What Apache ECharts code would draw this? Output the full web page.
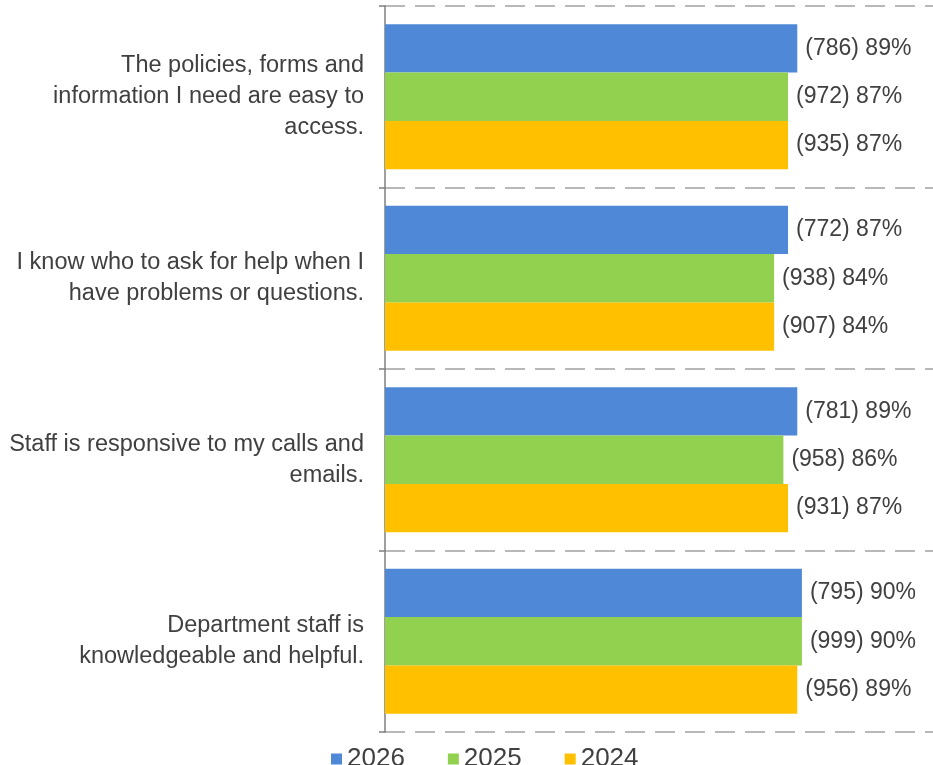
<!DOCTYPE html>
<html>
<head>
<meta charset="utf-8">
<script src="https://cdn.jsdelivr.net/npm/echarts@6/dist/echarts.min.js"></script>
<style>
  html, body { margin: 0; padding: 0; background: #ffffff; }
  #chart { width: 933px; height: 765px; }
</style>
</head>
<body>
<div id="chart"></div>
<script>
// Survey statements (top to bottom)
const categories = [
  'The policies, forms and\ninformation I need are easy to\naccess.',
  'I know who to ask for help when I\nhave problems or questions.',
  'Staff is responsive to my calls and\nemails.',
  'Department staff is\nknowledgeable and helpful.'
];

const years = ['2026', '2025', '2024'];

// Percent agreeing, per year
const pct2026 = [89, 87, 89, 90];
const pct2025 = [87, 84, 86, 90];
const pct2024 = [87, 84, 87, 89];

// Number of respondents, per year
const n2026 = [786, 772, 781, 795];
const n2025 = [972, 938, 958, 999];
const n2024 = [935, 907, 931, 956];

const colors = ['#4f88d6', '#92d050', '#ffc000'];
const FONT = '"Liberation Sans", Arial, sans-serif';
const TEXT = '#404040';

function makeSeries(name, pct, counts, color) {
  return {
    name: name,
    type: 'bar',
    data: pct,
    barGap: '0%',
    barCategoryGap: '20%',
    itemStyle: { color: color },
    label: {
      show: true,
      position: 'right',
      distance: 8,
      color: TEXT,
      fontFamily: FONT,
      fontSize: 23,
      formatter: p => '(' + counts[p.dataIndex] + ') ' + p.value + '%'
    },
    emphasis: { disabled: true }
  };
}

const chart = echarts.init(document.getElementById('chart'), null, { renderer: 'canvas' });
chart.setOption({
  animation: false,
  backgroundColor: '#ffffff',
  grid: { left: 385, right: 0, top: 6, bottom: 33, containLabel: false },
  legend: {
    data: years,
    left: 326,
    top: 741,
    icon: 'rect',
    itemWidth: 11,
    itemHeight: 11,
    itemGap: 43,
    textStyle: { color: TEXT, fontFamily: FONT, fontSize: 26 }
  },
  xAxis: {
    type: 'value',
    min: 0,
    max: 118.3,
    show: false,
    splitLine: { show: false }
  },
  yAxis: {
    type: 'category',
    data: categories,
    inverse: true,
    axisLine: { show: true, lineStyle: { color: '#7f7f7f', width: 1.5 } },
    axisTick: { show: true, length: 6, lineStyle: { color: '#7f7f7f', width: 1.5 } },
    splitLine: {
      show: true,
      lineStyle: { color: '#b8b8b8', width: 2, type: [20, 10] }
    },
    axisLabel: {
      color: TEXT,
      fontFamily: FONT,
      fontSize: 23.5,
      lineHeight: 31,
      margin: 21,
      align: 'right'
    }
  },
  series: [
    makeSeries(years[0], pct2026, n2026, colors[0]),
    makeSeries(years[1], pct2025, n2025, colors[1]),
    makeSeries(years[2], pct2024, n2024, colors[2])
  ]
});
</script>
</body>
</html>
